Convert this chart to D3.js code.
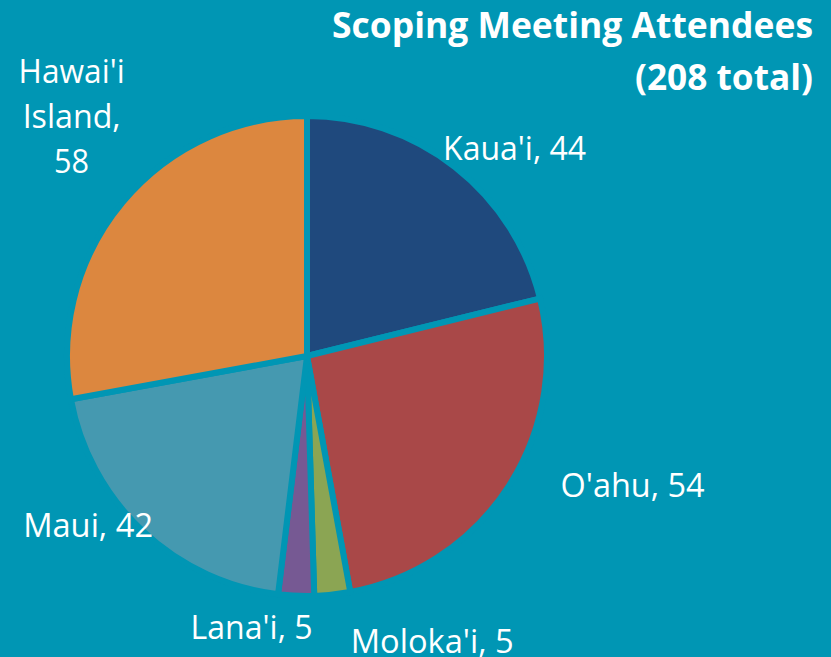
<!DOCTYPE html>
<meta charset="utf-8">
<html>
<style type='text/css'>
  body { margin:0; background:#0096B4; }
  text { font-family:"Open Sans", "DejaVu Sans", sans-serif; fill:#fff; }
</style>
<script src="https://d3js.org/d3.v7.min.js"></script>
<body>
<svg id="chart" width="831" height="657"></svg>
<script>

// data
var islands = ["Kaua'i", "O'ahu", "Moloka'i", "Lana'i", "Maui", "Hawai'i Island"];
var attendees = [44, 54, 5, 5, 42, 58];
var sliceColors = ["#1F497D", "#A94848", "#8BA553", "#765993", "#4599B0", "#DC873F"];
var titleLines = ["Scoping Meeting Attendees", "(208 total)"];

// label text, split into lines, and nudge from the outer centroid
var labelLines = [["Kaua'i, 44"], ["O'ahu, 54"], ["Moloka'i, 5"], ["Lana'i, 5"], ["Maui, 42"], ["Hawai'i", "Island,", "58"]];
var labelNudge = [[25, 25], [77, -31], [94, -9], [-42, -24], [-16, -46], [-8, -50]];
var labelWidths = [[143], [144], [163], [122], [130], [106, 98, 35]];

var svg = d3.select("#chart");
var W = 831, H = 657;
var cx = 307, cy = 356, R = 240;
var bg = "#0096B4";

var pie = d3.pie().sort(null).value(function(d) { return d; });
var arcs = pie(attendees);

var arc = d3.arc().innerRadius(0).outerRadius(R);
var labelArc = d3.arc().innerRadius(296).outerRadius(296);

var g = svg.append("g").attr("transform", "translate(" + cx + "," + cy + ")");

g.selectAll("path")
  .data(arcs)
  .enter()
  .append("path")
    .attr("d", arc)
    .attr("fill", function(d, i) { return sliceColors[i]; })
    .attr("stroke", bg)
    .attr("stroke-width", 6)
    .attr("stroke-linejoin", "miter");

// labels
var fs = 32, lineH = 45;
arcs.forEach(function(d, i) {
  var c = labelArc.centroid(d);
  var x = c[0] + labelNudge[i][0];
  var y = c[1] + labelNudge[i][1];
  var lines = labelLines[i];
  var top = y - (lines.length - 1) * lineH / 2;
  lines.forEach(function(t, j) {
    g.append("text")
      .attr("x", x)
      .attr("y", top + j * lineH + 11.5)
      .attr("text-anchor", "middle")
      .attr("font-size", fs)
      .attr("textLength", labelWidths[i][j])
      .attr("lengthAdjust", "spacingAndGlyphs")
      .text(t);
  });
});

// title
var titleWidths = [481, 178];
var titleBase = [38, 90];
titleLines.forEach(function(t, j) {
  svg.append("text")
    .attr("x", 813)
    .attr("y", titleBase[j])
    .attr("text-anchor", "end")
    .attr("font-size", 35)
    .attr("font-weight", "bold")
    .attr("textLength", titleWidths[j])
    .attr("lengthAdjust", "spacingAndGlyphs")
    .text(t);
});

</script>
</body>
</html>
